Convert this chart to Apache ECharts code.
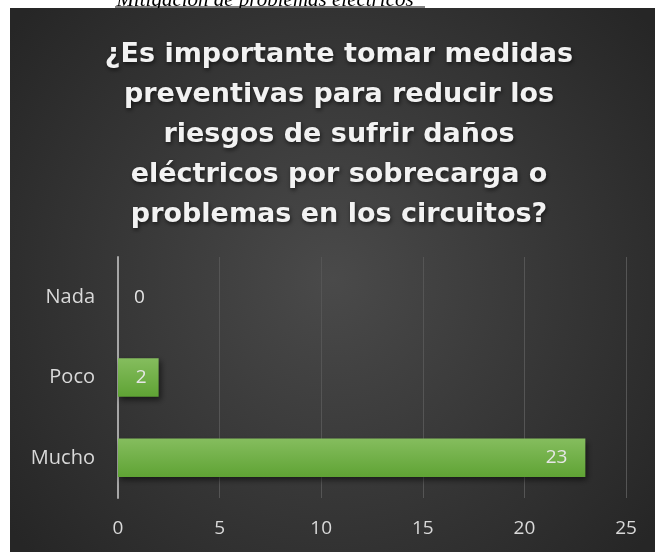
<!DOCTYPE html>
<html>
<head>
<meta charset="utf-8">
<script src="https://cdn.jsdelivr.net/npm/echarts@6/dist/echarts.min.js"></script>
<style>
  html, body { margin: 0; padding: 0; background: #ffffff; }
  #chart { width: 655px; height: 552px; }
</style>
</head>
<body>
<div id="chart"></div>
<script>
// Datos del gráfico
const categorias = ['Nada', 'Poco', 'Mucho'];
const valores = [0, 2, 23];
const ticksX = [0, 5, 10, 15, 20, 25];
const titulo = '¿Es importante tomar medidas\npreventivas para reducir los\nriesgos de sufrir daños\neléctricos por sobrecarga o\nproblemas en los circuitos?';
const leyenda = 'Mitigación de problemas eléctricos';

const chart = echarts.init(document.getElementById('chart'));

// Etiqueta del valor según el largo de la barra
const datosBarras = valores.map(function (v) {
    return {
        value: v,
        label: v === 0
            ? { position: 'right', distance: 16 }
            : { position: 'insideRight', distance: v > 9 ? 18 : 12 }
    };
});

const option = {
    backgroundColor: '#ffffff',
    animation: false,
    title: {
        text: titulo,
        left: 334,
        top: 30,
        textAlign: 'center',
        textStyle: {
            color: '#f2f2f2',
            fontFamily: 'DejaVu Sans',
            fontWeight: 'bold',
            fontSize: 27,
            lineHeight: 40,
            textShadowColor: 'rgba(0,0,0,0.6)',
            textShadowBlur: 4,
            textShadowOffsetX: 1,
            textShadowOffsetY: 2
        }
    },
    graphic: [
        {
            type: 'rect',
            z: -10,
            silent: true,
            shape: { x: 10, y: 8, width: 645, height: 544 },
            style: {
                fill: new echarts.graphic.RadialGradient(0.5, 0.5, 0.75, [
                    { offset: 0, color: '#4a4a4a' },
                    { offset: 1, color: '#262626' }
                ])
            }
        },
        {
            // leyenda de la figura, cortada por el panel
            type: 'text',
            z: -11,
            silent: true,
            style: {
                x: 265,
                y: 11,
                text: leyenda,
                fill: '#000000',
                font: 'italic 21px "Liberation Serif"',
                textAlign: 'center',
                textVerticalAlign: 'bottom'
            }
        },
        {
            type: 'line',
            z: -9,
            shape: { x1: 115, y1: 7, x2: 425, y2: 7 },
            style: { stroke: '#000000', lineWidth: 1 }
        }
    ],
    grid: {
        left: 118,
        right: 29,
        top: 257,
        bottom: 54,
        containLabel: false
    },
    xAxis: {
        type: 'value',
        min: ticksX[0],
        max: ticksX[ticksX.length - 1],
        interval: 5,
        axisLine: { show: false },
        axisTick: { show: false },
        splitLine: { lineStyle: { color: '#555555', width: 1 } },
        axisLabel: {
            color: '#d9d9d9',
            fontFamily: 'Open Sans',
            fontSize: 19,
            margin: 21
        }
    },
    yAxis: {
        type: 'category',
        data: categorias,
        inverse: true,
        axisLine: { show: true, lineStyle: { color: '#a6a6a6', width: 2 } },
        axisTick: { show: false },
        axisLabel: {
            color: '#d9d9d9',
            fontFamily: 'Open Sans',
            fontSize: 20,
            margin: 23
        }
    },
    series: [
        {
            type: 'bar',
            data: datosBarras,
            barCategoryGap: '52%',
            itemStyle: {
                color: new echarts.graphic.LinearGradient(0, 0, 0, 1, [
                    { offset: 0, color: '#85bd5e' },
                    { offset: 1, color: '#5fa334' }
                ]),
                shadowColor: 'rgba(0,0,0,0.55)',
                shadowBlur: 6,
                shadowOffsetX: 2,
                shadowOffsetY: 3
            },
            label: {
                show: true,
                color: '#e6e6e6',
                fontFamily: 'Open Sans',
                fontSize: 19
            }
        }
    ]
};

chart.setOption(option);
window.addEventListener('resize', function () { chart.resize(); });
</script>
</body>
</html>
